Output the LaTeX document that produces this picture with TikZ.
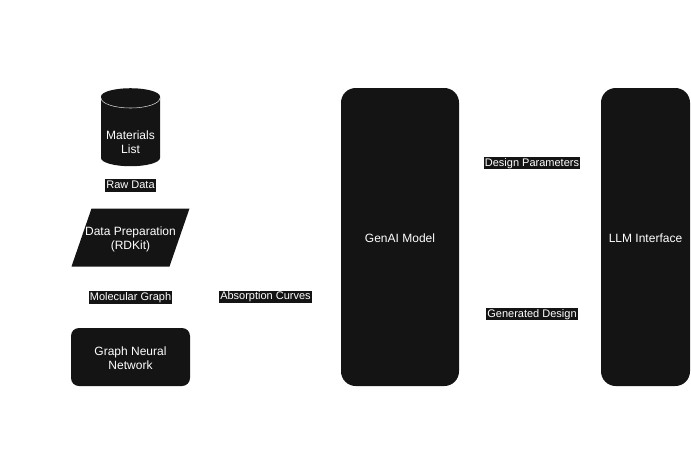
\documentclass[tikz,border=0pt]{standalone}
\usepackage{fontspec}
\setmainfont{Liberation Sans}
\usetikzlibrary{shapes.geometric}
\definecolor{boxfill}{RGB}{20,20,20}

\begin{document}
\begin{tikzpicture}[x=0.75pt,y=-0.75pt,
    box/.style={fill=boxfill, text=white, font=\fontsize{9}{10.5}\selectfont, align=center, inner sep=0pt},
    slanted/.style={text=white, font=\fontsize{9}{10.5}\selectfont, align=center, inner sep=0pt,
      path picture={\fill[boxfill] ([xshift=15pt]path picture bounding box.north west) -- (path picture bounding box.north east)
        -- ([xshift=-15pt]path picture bounding box.south east) -- (path picture bounding box.south west) -- cycle;}},
    lbl/.style={fill=boxfill, text=white, font=\fontsize{8.25}{9}\selectfont, inner xsep=1pt, inner ysep=0.5pt, text height=6.6pt, text depth=2pt}]
				\useasboundingbox (0,0) rectangle (691,458);
				
				% Узлы схемы
				\node[box, cylinder, shape border rotate=90, aspect=0.34, minimum width=44.25pt, minimum height=58.5pt] (mat) at (130.5,131.5) {\rule{0pt}{22pt}Materials\\List};
				\node[slanted, minimum width=88.5pt, minimum height=43.5pt] (prep) at (130.5,237.5) {\rule{0pt}{10pt}Data Preparation\\(RDKit)};
				\node[box, rectangle, rounded corners=6pt, minimum width=89.25pt, minimum height=43.5pt] (gnn) at (130.5,357) {\rule{0pt}{8pt}Graph Neural\\Network};
				\node[box, rectangle, rounded corners=11pt, minimum width=88.5pt, minimum height=223.5pt] (genai) at (400,237) {\rule{0pt}{8pt}GenAI Model};
				\node[box, rectangle, rounded corners=11pt, minimum width=66.75pt, minimum height=223.5pt] (llm) at (645.5,237) {\rule{0pt}{8pt}LLM Interface};
				
				% Край верхнего основания цилиндра
				\draw[white!85!black, line width=0.4pt] (101,98) arc[start angle=180, end angle=360, x radius=22.1pt, y radius=7.5pt];
				
				% Связи (линии не видны, только подписи)
				\path (mat) -- node[lbl, yshift=1.5pt] {Raw Data} (prep);
				\path (prep) -- node[lbl] {Molecular Graph} (gnn);
				\path (gnn) -- node[lbl] {Absorption Curves} (genai);
				\path ([yshift=55.5pt]genai.east) -- node[lbl, xshift=1.5pt] {Design Parameters} ([yshift=55.5pt]llm.west);
				\path ([yshift=-57.75pt]genai.east) -- node[lbl, xshift=1.5pt] {Generated Design} ([yshift=-57.75pt]llm.west);
			\end{tikzpicture}
\end{document}
